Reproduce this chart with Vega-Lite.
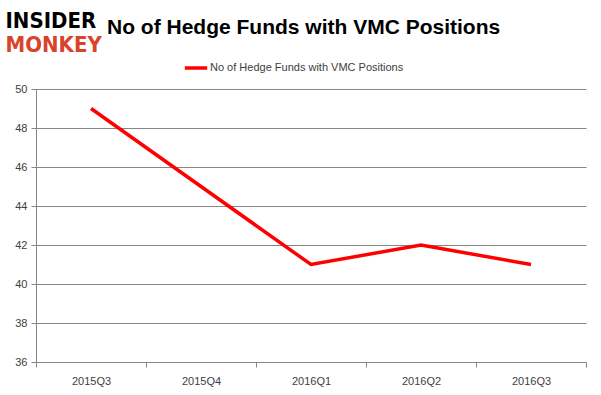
{
  "$schema": "https://vega.github.io/schema/vega-lite/v6.json",
  "width": 550,
  "height": 273,
  "autosize": "none",
  "padding": {"left": 36, "top": 89, "right": 15, "bottom": 33},
  "background": "white",
  "title": {
    "text": "No of Hedge Funds with VMC Positions",
    "anchor": "start",
    "dx": 102,
    "offset": -29,
    "font": "Liberation Sans",
    "fontSize": 21,
    "fontWeight": "bold",
    "color": "#000000"
  },
  "data": {
    "values": [
      {"quarter": "2015Q3", "funds": 49, "series": "No of Hedge Funds with VMC Positions"},
      {"quarter": "2015Q4", "funds": 45, "series": "No of Hedge Funds with VMC Positions"},
      {"quarter": "2016Q1", "funds": 41, "series": "No of Hedge Funds with VMC Positions"},
      {"quarter": "2016Q2", "funds": 42, "series": "No of Hedge Funds with VMC Positions"},
      {"quarter": "2016Q3", "funds": 41, "series": "No of Hedge Funds with VMC Positions"}
    ]
  },
  "mark": {"type": "line", "strokeWidth": 3.5},
  "encoding": {
    "x": {
      "field": "quarter",
      "type": "ordinal",
      "scale": {"type": "band", "paddingInner": 0, "paddingOuter": 0},
      "axis": {
        "title": "MONKEY",
        "titleX": -31,
        "titleY": -311,
        "titleAlign": "left",
        "titleBaseline": "alphabetic",
        "titleFont": "DejaVu Sans Condensed",
        "titleFontSize": 22,
        "titleFontWeight": "bold",
        "titleColor": "#d9432b",
        "labelAngle": 0,
        "labelFont": "Liberation Sans",
        "labelFontSize": 11,
        "labelColor": "#404040",
        "labelPadding": 8,
        "tickBand": "extent",
        "tickSize": 5,
        "tickColor": "#868686",
        "domainColor": "#868686",
        "grid": false
      }
    },
    "y": {
      "field": "funds",
      "type": "quantitative",
      "scale": {"domain": [36, 50], "nice": false, "zero": false},
      "axis": {
        "values": [36, 38, 40, 42, 44, 46, 48, 50],
        "title": "INSIDER",
        "titleAngle": 0,
        "titleX": -31,
        "titleY": -62,
        "titleAlign": "left",
        "titleBaseline": "alphabetic",
        "titleFont": "DejaVu Sans Condensed",
        "titleFontSize": 22,
        "titleFontWeight": "bold",
        "titleColor": "#000000",
        "labelFont": "Liberation Sans",
        "labelFontSize": 11,
        "labelColor": "#404040",
        "labelPadding": 4,
        "tickSize": 5,
        "tickColor": "#868686",
        "domainColor": "#868686",
        "gridColor": "#868686",
        "grid": true
      }
    },
    "color": {
      "field": "series",
      "type": "nominal",
      "scale": {"range": ["#ff0000"]},
      "legend": {
        "title": null,
        "orient": "none",
        "legendX": 147,
        "legendY": -34,
        "symbolType": "stroke",
        "symbolStrokeWidth": 3.5,
        "symbolSize": 500,
        "labelFont": "Liberation Sans",
        "labelFontSize": 11,
        "labelColor": "#404040",
        "labelOffset": 1,
        "labelLimit": 0
      }
    }
  },
  "config": {
    "view": {"stroke": null}
  }
}
